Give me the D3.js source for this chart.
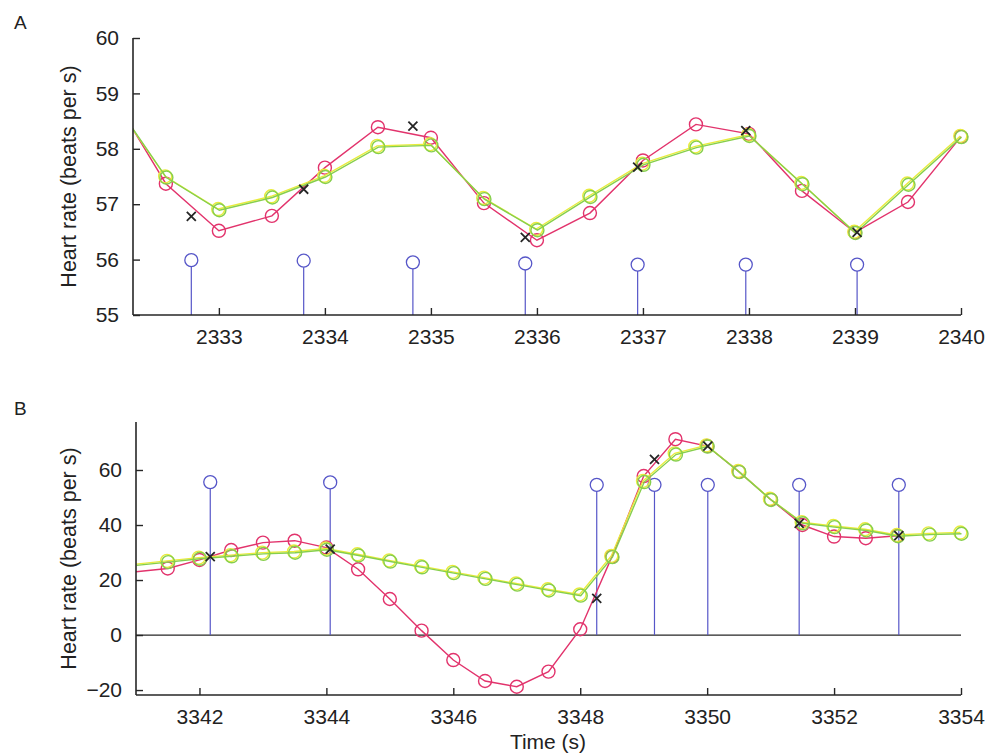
<!DOCTYPE html>
<html>
<head>
<meta charset="utf-8">
<script src="https://cdn.jsdelivr.net/npm/d3@7"></script>
<style>
  body { margin: 0; background: #fff; }
  text { font-family: "Liberation Sans", Arial, sans-serif; fill: #222; }
</style>
</head>
<body>
<div id="chart"></div>
<script>
// ---- panel A data ----
var timesA = [2332, 2332.5, 2333, 2333.5, 2334, 2334.5, 2335, 2335.5, 2336,
              2336.5, 2337, 2337.5, 2338, 2338.5, 2339, 2339.5, 2340];
var redA   = [58.95, 57.37, 56.52, 56.79, 57.66, 58.39, 58.20, 57.02, 56.35,
              56.84, 57.79, 58.44, 58.27, 57.24, 56.49, 57.04, 58.22];
var greenA = [58.88, 57.49, 56.90, 57.13, 57.50, 58.04, 58.07, 57.10, 56.54,
              57.14, 57.72, 58.03, 58.24, 57.37, 56.49, 57.36, 58.22];
var beatTimesA = [2332.74, 2333.80, 2334.83, 2335.89, 2336.95, 2337.97, 2339.02];
var beatRateA  = [56.78, 57.27, 58.41, 56.40, 57.67, 58.33, 56.49];
var stemA      = [55.99, 55.98, 55.95, 55.93, 55.91, 55.91, 55.91];
var ticksXA = [2333, 2334, 2335, 2336, 2337, 2338, 2339, 2340];
var ticksYA = [55, 56, 57, 58, 59, 60];

// ---- panel B data ----
var timesB = [3341, 3341.5, 3342, 3342.5, 3343, 3343.5, 3344, 3344.5, 3345,
              3345.5, 3346, 3346.5, 3347, 3347.5, 3348, 3348.5, 3349, 3349.5,
              3350, 3350.5, 3351, 3351.5, 3352, 3352.5, 3353, 3353.5, 3354];
var redB   = [23.0, 24.2, 27.3, 30.9, 33.6, 34.3, 31.8, 23.9, 13.1, 1.6, -9.1,
              -16.7, -18.8, -13.3, 2.1, 28.5, 57.8, 71.2, 68.7, 59.4, 49.3,
              40.0, 35.8, 35.2, 36.1];
var greenB = [25.5, 26.7, 27.9, 28.8, 29.7, 30.1, 31.2, 29.1, 26.9, 24.8, 22.7,
              20.6, 18.5, 16.4, 14.5, 28.5, 55.8, 65.8, 68.7, 59.4, 49.3, 40.8,
              39.4, 38.2, 36.1, 36.7, 37.0];
var beatTimesB = [3342.17, 3344.06, 3348.26, 3349.17, 3350.01, 3351.45, 3353.02];
var beatRateB  = [28.5, 31.2, 13.3, 63.9, 68.7, 40.6, 36.1];
var stemB      = [55.6, 55.5, 54.6, 54.6, 54.6, 54.6, 54.6];
var ticksXB = [3342, 3344, 3346, 3348, 3350, 3352, 3354];
var ticksYB = [-20, 0, 20, 40, 60];

var svgWidth = 989, svgHeight = 755;
var red = "#e2336c", green = "#86cf4c", yellow = "#e8ec3c", blue = "#5656c8", ink = "#262626";

var svg = d3.select("#chart").append("svg")
  .attr("width", svgWidth)
  .attr("height", svgHeight);

function panel(cfg) {
  var x = d3.scaleLinear().domain(cfg.xDomain).range([cfg.left, cfg.right]);
  var y = d3.scaleLinear().domain(cfg.yDomain).range([cfg.bottom, cfg.top]);
  var g = svg.append("g");

  g.append("clipPath").attr("id", cfg.id)
    .append("rect")
    .attr("x", cfg.left).attr("y", cfg.top - 10)
    .attr("width", cfg.right - cfg.left + 10)
    .attr("height", cfg.bottom - cfg.top + 10);

  var plot = g.append("g").attr("clip-path", "url(#" + cfg.id + ")");

  if (cfg.zeroLine) {
    plot.append("line")
      .attr("x1", cfg.left).attr("x2", cfg.right)
      .attr("y1", y(0)).attr("y2", y(0))
      .attr("stroke", ink).attr("stroke-width", 1.3);
  }

  // stems
  var base = cfg.zeroLine ? 0 : cfg.yDomain[0];
  var stems = cfg.beatTimes.map(function(t, i) { return {t: t, v: cfg.stem[i]}; });
  plot.selectAll(".stem").data(stems).enter().append("line")
    .attr("x1", d => x(d.t)).attr("x2", d => x(d.t))
    .attr("y1", y(base)).attr("y2", d => y(d.v) + 6.5)
    .attr("stroke", blue).attr("stroke-width", 1.2);
  plot.selectAll(".stemc").data(stems).enter().append("circle")
    .attr("cx", d => x(d.t)).attr("cy", d => y(d.v)).attr("r", 6.5)
    .attr("fill", "none").attr("stroke", blue).attr("stroke-width", 1.3);

  var inside = function(d) { return d.t > cfg.xDomain[0] + 0.1; };
  var line = d3.line().x(d => x(d.t)).y(d => y(d.v));

  function series(vals, color, dx, dy) {
    var pts = vals.map(function(v, i) { return {t: cfg.times[i], v: v}; });
    var s = plot.append("g").attr("transform", "translate(" + dx + "," + dy + ")");
    s.append("path").datum(pts).attr("d", line)
      .attr("fill", "none").attr("stroke", color).attr("stroke-width", 1.4);
    s.selectAll("circle").data(pts.filter(inside)).enter().append("circle")
      .attr("cx", d => x(d.t)).attr("cy", d => y(d.v)).attr("r", 6.5)
      .attr("fill", "none").attr("stroke", color).attr("stroke-width", 1.4);
  }
  series(cfg.red, red, 0, 0);
  series(cfg.green, yellow, -0.7, -0.7);
  series(cfg.green, green, 0.5, 0.5);

  // beat markers (x)
  var beats = cfg.beatTimes.map(function(t, i) { return {t: t, v: cfg.beatRate[i]}; });
  plot.selectAll(".beat").data(beats).enter().append("path")
    .attr("d", d => {
      var cx = x(d.t), cy = y(d.v), s = 4.5;
      return "M" + (cx - s) + "," + (cy - s) + "L" + (cx + s) + "," + (cy + s) +
             "M" + (cx - s) + "," + (cy + s) + "L" + (cx + s) + "," + (cy - s);
    })
    .attr("stroke", ink).attr("stroke-width", 1.8);

  // axes, matlab style: inward ticks
  var xAxis = d3.axisBottom(x).tickValues(cfg.ticksX).tickSize(-7).tickPadding(14)
    .tickFormat(d3.format("d"));
  var yAxis = d3.axisLeft(y).tickValues(cfg.ticksY).tickSize(-7).tickPadding(14)
    .tickFormat(d => d < 0 ? "\u2212" + Math.abs(d) : d);

  var ax = g.append("g").attr("transform", "translate(0," + cfg.bottom + ")").call(xAxis);
  var ay = g.append("g").attr("transform", "translate(" + cfg.left + ",0)").call(yAxis);
  [ax, ay].forEach(function(a) {
    a.select(".domain").attr("stroke", ink).attr("stroke-width", 1.6)
      .attr("d", a === ax ? "M" + cfg.left + ",0H" + cfg.right : "M0," + cfg.top + "V" + cfg.bottom);
    a.selectAll(".tick line").attr("stroke", ink).attr("stroke-width", 1.4);
    a.selectAll(".tick text").style("font-size", "21px").attr("fill", ink)
      .attr("font-family", "Liberation Sans, Arial, sans-serif");
  });
  ax.selectAll(".tick text").attr("dy", "0.71em");

  g.append("text")
    .attr("transform", "translate(" + cfg.labelX + "," + ((cfg.top + cfg.bottom) / 2) + ") rotate(-90)")
    .attr("text-anchor", "middle")
    .style("font-size", "21.5px")
    .text("Heart rate (beats per s)");

  g.append("text").attr("x", cfg.letterX).attr("y", cfg.letterY)
    .style("font-size", "19px").text(cfg.letter);
}

panel({
  id: "clipA", letter: "A", letterX: 14, letterY: 29, labelX: 76,
  left: 133, right: 961, top: 38, bottom: 315,
  xDomain: [2332.19, 2340], yDomain: [55, 60],
  times: timesA, red: redA, green: greenA,
  beatTimes: beatTimesA, beatRate: beatRateA, stem: stemA,
  ticksX: ticksXA, ticksY: ticksYA, zeroLine: false
});

panel({
  id: "clipB", letter: "B", letterX: 14, letterY: 415, labelX: 76,
  left: 136, right: 961, top: 422, bottom: 695,
  xDomain: [3341, 3354], yDomain: [-21.8, 77.45],
  times: timesB, red: redB, green: greenB,
  beatTimes: beatTimesB, beatRate: beatRateB, stem: stemB,
  ticksX: ticksXB, ticksY: ticksYB, zeroLine: true
});

svg.append("text")
  .attr("x", 548).attr("y", 749)
  .attr("text-anchor", "middle")
  .style("font-size", "21px")
  .text("Time (s)");
</script>
</body>
</html>
